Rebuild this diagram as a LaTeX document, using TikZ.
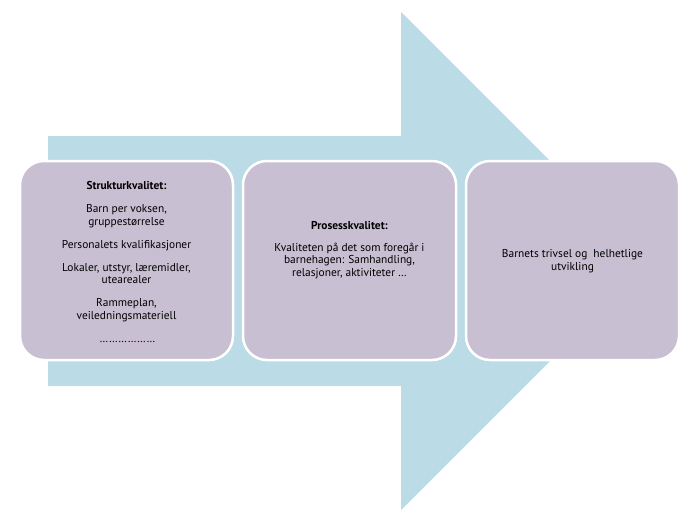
\documentclass[tikz,border=0pt]{standalone}
\usepackage{fontspec}
\setmainfont{PT Sans}
\definecolor{arrowblue}{RGB}{187,220,230}
\definecolor{boxlav}{RGB}{201,191,210}
\begin{document}
\begin{tikzpicture}[x=1pt,y=-1pt,
  qbox/.style={draw=white, line width=2.5pt, fill=boxlav, rounded corners=24pt,
    minimum width=213pt, minimum height=199pt, inner sep=0pt},
  qtext/.style={align=center, font=\fontsize{11.4}{12.5}\selectfont, inner sep=0pt, text=black}]
\useasboundingbox (0,0) rectangle (700,522);
\fill[arrowblue] (48,136) -- (401,136) -- (401,12) -- (650,261) -- (401,510) -- (401,386) -- (48,386) -- cycle;
\node[qbox] (b1) at (126.5,260.5) {};
\node[qbox] (b2) at (349.5,260.5) {};
\node[qbox] (b3) at (572.5,260.5) {};
\node[qtext] (t1) at (126.5,262) {\textbf{Strukturkvalitet:}\\[10.5pt]
Barn per voksen,\\ gruppestørrelse\\[10.5pt]
Personalets kvalifikasjoner\\[10.5pt]
Lokaler, utstyr, læremidler,\\ utearealer\\[10.5pt]
Rammeplan,\\ veiledningsmateriell\\[10.5pt]
\,\ldots\ldots\ldots\ldots\ldots\ldots};
\node[qtext] (t2) at (349.5,250) {\textbf{Prosesskvalitet:}\\[9pt]
Kvaliteten på det som foregår i\\ barnehagen: Samhandling,\\ relasjoner, aktiviteter \ldots};
\node[qtext] (t3) at (572.5,261) {Barnets trivsel og\ \ helhetlige\\ utvikling};
\end{tikzpicture}
\end{document}
